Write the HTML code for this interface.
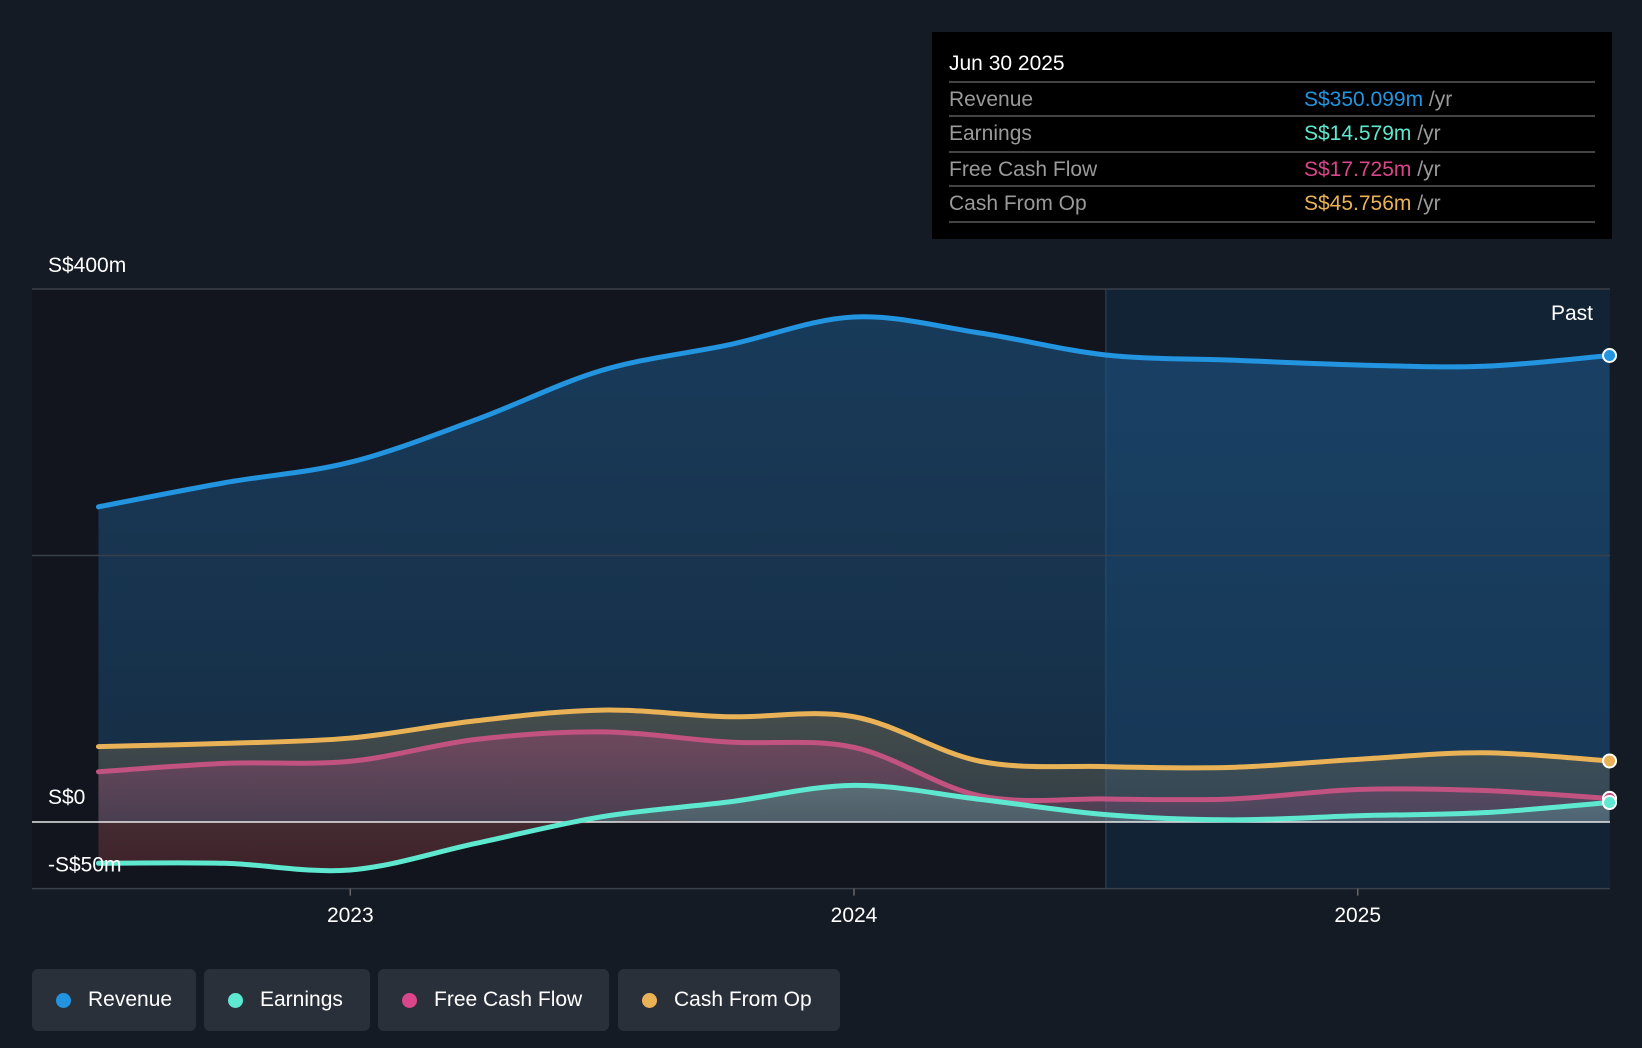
<!DOCTYPE html>
<html><head><meta charset="utf-8"><style>
html,body{margin:0;padding:0;background:#151b24;}
body{width:1642px;height:1048px;overflow:hidden;font-family:"Liberation Sans",sans-serif;position:relative;}
svg{position:absolute;left:0;top:0;}
.tip{position:absolute;left:932px;top:32px;width:680px;height:207px;background:#000;}
.pill{position:absolute;top:969px;height:62px;background:#2a303a;border-radius:6px;color:#fff;font-size:21px;line-height:62px;}
.pill .dot{position:absolute;left:24px;top:24px;width:15px;height:15px;border-radius:50%;}
.pill span.t{position:absolute;left:56px;}
</style></head><body>
<svg id="chart" width="1642" height="1048"></svg>
<div class="tip">
<svg width="680" height="207" style="position:absolute;left:0;top:0">
<text x="17" y="38" fill="#fff" font-size="21" font-family="Liberation Sans">Jun 30 2025</text>
<g stroke="#444" stroke-width="2"><line x1="17" x2="663" y1="50" y2="50"/><line x1="17" x2="663" y1="84" y2="84"/><line x1="17" x2="663" y1="120" y2="120"/><line x1="17" x2="663" y1="154" y2="154"/><line x1="17" x2="663" y1="190" y2="190"/></g>
<g font-size="21" font-family="Liberation Sans" fill="#9a9a9a">
<text x="17" y="74">Revenue</text><text x="17" y="108">Earnings</text><text x="17" y="144">Free Cash Flow</text><text x="17" y="178">Cash From Op</text>
<text x="372" y="74"><tspan fill="#2394e0">S$350.099m</tspan> /yr</text>
<text x="372" y="108"><tspan fill="#5ee8d0">S$14.579m</tspan> /yr</text>
<text x="372" y="144"><tspan fill="#d9468a">S$17.725m</tspan> /yr</text>
<text x="372" y="178"><tspan fill="#eab257">S$45.756m</tspan> /yr</text>
</g></svg></div>
<div class="pill" style="left:32px;width:164px"><div class="dot" style="background:#2394e0"></div><span class="t">Revenue</span></div>
<div class="pill" style="left:204px;width:166px"><div class="dot" style="background:#5ee8d0"></div><span class="t">Earnings</span></div>
<div class="pill" style="left:378px;width:231px"><div class="dot" style="background:#d9468a"></div><span class="t">Free Cash Flow</span></div>
<div class="pill" style="left:618px;width:222px"><div class="dot" style="background:#eab257"></div><span class="t">Cash From Op</span></div>
<script>
const dates=[2022.5,2022.75,2023,2023.25,2023.5,2023.75,2024,2024.25,2024.5,2024.75,2025,2025.25,2025.5];
const revenue=[236.5,254.6,270,302,339,358,379,367,350.5,346.6,343,342,350.1];
const earnings=[-31,-31,-36,-16,4,15,27.5,17,5.5,1.6,4.7,7,14.6];
const fcf=[37.7,44,45.6,62,67.6,60,56,19.6,17.3,17.3,24.4,23.6,17.7];
const cfo=[56.6,59,63,76,84,79,79,45.6,41.6,41,47,52,45.8];
const yTicks=[400,200,0,-50];
const xTicks=[2023,2024,2025];
const xLabels=["2023","2024","2025"];
const NS="http://www.w3.org/2000/svg";
const svg=document.getElementById('chart');
const L=32,R=1610;
const X=d=>854+(d-2024)*503.7;
const Y=v=>822-v*1.3325;
function el(t,a,p){const e=document.createElementNS(NS,t);for(const k in a)e.setAttribute(k,a[k]);(p||svg).appendChild(e);return e;}
const defs=el('defs',{});
function grad(id,c,o1,o2){const g=el('linearGradient',{id,x1:0,y1:0,x2:0,y2:1},defs);el('stop',{offset:0,'stop-color':c,'stop-opacity':o1},g);el('stop',{offset:1,'stop-color':c,'stop-opacity':o2},g);}
grad('gRev','#1e5a8c',0.55,0.35);grad('gCfo','#eab257',0.22,0.12);grad('gFcf','#d9468a',0.3,0.15);grad('gEarn','#5ee8d0',0.25,0.1);
let r=el('rect',{x:L,y:Y(400),width:X(2024.5)-L,height:Y(-50)-Y(400),fill:'#12151d'});

r=el('rect',{x:X(2024.5),y:Y(400),width:R-X(2024.5),height:Y(-50)-Y(400),fill:'#132336'});

el('line',{x1:X(2024.5),x2:X(2024.5),y1:Y(400),y2:Y(-50),stroke:'#1f3a52','stroke-width':1.5});
function pathD(vals){const p=dates.map((d,i)=>[X(d),Y(vals[i])]);let s=`M${p[0][0]},${p[0][1]}`;
for(let i=0;i<p.length-1;i++){const p0=p[Math.max(0,i-1)],p1=p[i],p2=p[i+1],p3=p[Math.min(p.length-1,i+2)];
s+=` C${p1[0]+(p2[0]-p0[0])/6},${p1[1]+(p2[1]-p0[1])/6} ${p2[0]-(p3[0]-p1[0])/6},${p2[1]-(p3[1]-p1[1])/6} ${p2[0]},${p2[1]}`;}return s;}
function area(vals,fill,name){const d=pathD(vals)+` L${X(dates[dates.length-1])},${Y(0)} L${X(dates[0])},${Y(0)} Z`;const a=el('path',{d,fill});}
area(revenue,'url(#gRev)','revenue-area');
area(cfo,'url(#gCfo)','cfo-area');
area(fcf,'url(#gFcf)','fcf-area');
area(earnings,'url(#gEarn)','earnings-area');
const neg=earnings.map(v=>Math.min(v,0));
area(neg,'rgba(110,25,35,0.45)','earnings-negative-area');
yTicks.forEach(v=>{const c=v===0?'#e8e8e8':'#3a404a';const g=el('line',{x1:L,x2:R,y1:Y(v),y2:Y(v),stroke:c,'stroke-width':1.5});});
function line(vals,c,name){const p=el('path',{d:pathD(vals),fill:'none',stroke:c,'stroke-width':5,'stroke-linecap':'round'});
const last=vals.length-1;const dot=el('circle',{cx:X(dates[last]),cy:Y(vals[last]),r:6.5,fill:c,stroke:'#fff','stroke-width':2});}
line(cfo,'#eab257','cfo-line');
line(fcf,'#c2527f','fcf-line');
line(earnings,'#5ee8d0','earnings-line');
line(revenue,'#2394e0','revenue-line');
[[400,'S$400m',-24],[0,'S$0',-25],[-50,'-S$50m',-24]].forEach(([v,t,off])=>{const tx=el('text',{x:48,y:(v===-50?Y(-50)-17:Y(v)+off+7),fill:'#fff','font-size':21,'font-family':'Liberation Sans'});tx.textContent=t;});
xTicks.forEach((d,i)=>{el('line',{x1:X(d),x2:X(d),y1:Y(-50),y2:Y(-50)+7,stroke:'#666','stroke-width':1.5});const tx=el('text',{x:X(d),y:922,fill:'#fff','font-size':21,'text-anchor':'middle','font-family':'Liberation Sans'});tx.textContent=xLabels[i];});
const past=el('text',{x:1593,y:320,fill:'#fff','font-size':21,'text-anchor':'end','font-family':'Liberation Sans'});past.textContent='Past';


</script>
</body></html>
